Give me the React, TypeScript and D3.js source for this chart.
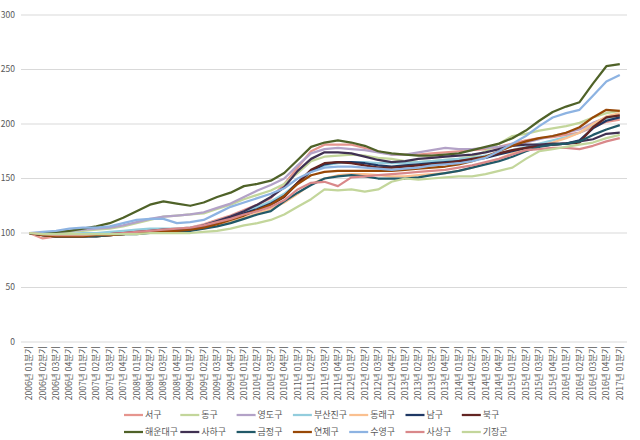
import React from "react";
import * as d3 from "d3";

const years = [2006, 2007, 2008, 2009, 2010, 2011, 2012, 2013, 2014, 2015, 2016, 2017];
const quarters = ["01", "02", "03", "04"];
const categories: string[] = [];
years.forEach((yr) => quarters.forEach((q) => { if (categories.length < 45) categories.push(`${yr}년 ${q}분기`); }));

const yTicks = [0, 50, 100, 150, 200, 250, 300];

const seoGu = [100,95,97,98,98,99,100,100,101,102,103,104,105,108,112,116,121,126,132,145,160,175,181,181,181,178,175,172,172,172,173,174,175,176,177,179,182,185,187,188,190,192,197,202,204];
const dongGu = [100,100,101,101,102,103,104,106,109,112,115,116,117,118,122,126,131,135,139,145,155,166,170,171,172,171,169,168,166,165,166,167,168,170,175,182,189,191,194,196,198,201,206,210,212];
const yeongdoGu = [100,100,101,102,103,104,105,107,110,113,115,116,117,119,123,127,133,139,144,150,162,173,177,178,177,176,174,172,172,174,176,178,177,177,178,179,181,183,186,189,192,195,201,206,208];
const busanjinGu = [100,99,99,99,100,100,101,102,103,104,104,104,105,107,111,115,120,124,129,136,146,156,162,164,165,165,164,164,164,165,166,167,168,169,171,173,176,179,182,185,188,192,199,205,207];
const dongnaeGu = [100,98,97,97,97,98,98,99,100,101,101,102,103,104,107,110,114,118,122,128,136,145,150,153,154,154,153,152,152,153,154,155,157,160,164,168,173,177,180,183,187,192,200,207,210];
const namGu = [100,98,97,97,97,98,98,99,100,101,102,102,103,106,110,114,118,122,127,134,146,157,163,165,165,164,162,161,162,163,164,165,166,167,169,172,175,178,180,181,182,185,196,203,206];
const bukGu = [100,98,97,97,97,97,98,99,100,101,102,102,103,105,109,113,117,121,126,133,146,158,164,165,164,162,160,160,161,162,163,164,166,168,170,173,176,178,180,181,182,183,197,206,208];
const haeundaeGu = [100,100,101,102,104,106,109,114,120,126,129,127,125,128,133,137,143,145,148,155,167,179,183,185,183,180,175,173,172,171,171,172,173,176,179,182,187,194,203,211,216,220,237,253,255];
const sahaGu = [100,99,98,98,98,99,99,100,101,102,103,103,104,107,111,115,120,126,133,142,157,168,174,174,173,170,167,165,166,168,169,170,171,172,174,177,180,181,181,182,182,184,186,191,192];
const geumjeongGu = [100,98,97,97,97,97,98,99,99,100,101,101,102,104,106,109,113,117,120,129,137,144,150,152,153,152,150,150,150,151,153,155,157,160,163,166,170,175,179,181,182,184,190,195,199];
const yeonjeGu = [100,98,97,97,97,98,98,99,100,101,102,102,103,105,108,112,116,121,126,134,145,153,156,157,157,157,157,157,158,159,160,161,163,166,170,175,180,184,187,189,192,197,206,213,212];
const suyeongGu = [100,101,102,104,105,105,106,109,112,113,113,109,110,112,118,124,128,132,136,141,150,156,160,161,161,160,159,158,159,160,162,163,164,166,169,175,182,189,198,206,210,213,226,239,245];
const sasangGu = [100,99,98,98,98,99,99,100,101,102,103,104,105,107,110,113,117,120,124,130,140,146,147,143,151,152,153,154,155,156,157,158,160,162,165,168,172,176,177,178,178,177,180,184,187];
const gijangGun = [100,99,99,99,99,99,99,99,99,100,100,100,100,101,102,104,107,109,112,117,124,131,140,139,140,138,140,147,150,149,150,151,152,152,154,157,160,168,175,177,179,181,183,187,190];

const seriesNames = ["서구","동구","영도구","부산진구","동래구","남구","북구","해운대구","사하구","금정구","연제구","수영구","사상구","기장군"];
const seriesValues = [seoGu, dongGu, yeongdoGu, busanjinGu, dongnaeGu, namGu, bukGu, haeundaeGu, sahaGu, geumjeongGu, yeonjeGu, suyeongGu, sasangGu, gijangGun];
const seriesColors = ["#E6958E","#C3D69B","#B3A2C7","#93CDDD","#FAC090","#1F3864","#632523","#4F6228","#403152","#215968","#984807","#8DB3E2","#D9888A","#C3D69B"];

const W = 640, H = 440;
const FONT = "'Noto Sans CJK KR', 'Noto Sans', sans-serif";

export default function App() {
  const x = d3.scaleBand<string>().domain(categories).range([22.5, 626.5]).padding(0);
  const cx = (c: string) => (x(c) as number) + x.bandwidth() / 2;
  const y = d3.scaleLinear().domain([0, 300]).range([342, 15]);
  const line = d3.line<number>().x((_, i) => cx(categories[i])).y((v) => y(v));

  return (
    <svg width={W} height={H} style={{ position: "absolute", left: 0, top: 0, background: "#fff" }} fontFamily={FONT}>
      {yTicks.map((t) => (
        <g key={t}>
          <line x1={21} x2={627} y1={y(t)} y2={y(t)} stroke="#D9D9D9" strokeWidth={1} />
          <text x={15} y={y(t)} dy="0.35em" textAnchor="end" fontSize={8.5} fill="#595959">{t}</text>
        </g>
      ))}
      {categories.map((c) => (
        <text key={c} transform={`translate(${cx(c)},346) rotate(-90)`} textAnchor="end" dy="0.35em" fontSize={8.6} fill="#595959">{c}</text>
      ))}
      {seriesValues.map((vals, k) => (
        <path key={seriesNames[k]} d={line(vals) || ""} fill="none" stroke={seriesColors[k]} strokeWidth={2.25} strokeLinejoin="round" />
      ))}
      {seriesNames.map((name, k) => {
        const col = k % 7;
        const row = Math.floor(k / 7);
        const x0 = 124 + col * 56.3;
        const yy = 415 + row * 17;
        return (
          <g key={name}>
            <line x1={x0} x2={x0 + 19} y1={yy} y2={yy} stroke={seriesColors[k]} strokeWidth={2.25} />
            <text x={x0 + 21} y={yy} dy="0.35em" fontSize={9} fill="#595959">{name}</text>
          </g>
        );
      })}
    </svg>
  );
}
